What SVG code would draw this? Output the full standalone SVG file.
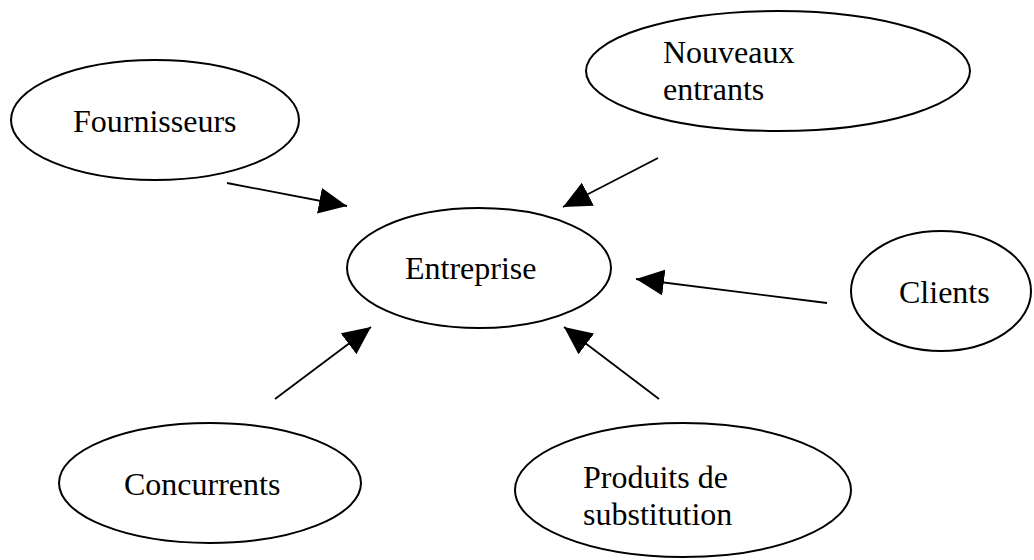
<svg xmlns="http://www.w3.org/2000/svg" width="1034" height="560" viewBox="0 0 1034 560">
<style>
.n{fill:#fff;stroke:#000;stroke-width:2}
.t{font-family:"Liberation Serif","Times New Roman",serif;font-size:32px;fill:#000}
.c line{stroke:#000;stroke-width:1.8;marker-end:url(#ah)}
</style>
<defs>
<marker id="ah" viewBox="0 0 28 26" refX="28" refY="13" markerWidth="28" markerHeight="26" markerUnits="userSpaceOnUse" orient="auto">
<path d="M0,0 L28,13 L0,26 z" fill="#000"/>
</marker>
</defs>
<rect width="1034" height="560" fill="#fff"/>
<g id="fournisseurs"><ellipse class="n" cx="155" cy="120" rx="144" ry="60"/><text class="t" x="73" y="132">Fournisseurs</text></g>
<g id="nouveaux"><ellipse class="n" cx="778" cy="71" rx="192" ry="60"/><text class="t" x="663" y="63">Nouveaux</text><text class="t" x="663" y="100">entrants</text></g>
<g id="entreprise"><ellipse class="n" cx="479" cy="268" rx="132" ry="60"/><text class="t" x="405" y="279">Entreprise</text></g>
<g id="clients"><ellipse class="n" cx="941" cy="291" rx="90" ry="60"/><text class="t" x="899" y="303">Clients</text></g>
<g id="concurrents"><ellipse class="n" cx="210" cy="483" rx="151" ry="60"/><text class="t" x="124" y="495">Concurrents</text></g>
<g id="produits"><ellipse class="n" cx="683" cy="490" rx="168" ry="67"/><text class="t" x="583" y="488">Produits de</text><text class="t" x="583" y="525">substitution</text></g>
<g id="connectors" class="c">
<line x1="227" y1="183" x2="347" y2="206"/>
<line x1="658" y1="158" x2="563" y2="207"/>
<line x1="827" y1="303" x2="636" y2="279"/>
<line x1="275" y1="399" x2="371" y2="327"/>
<line x1="659" y1="399" x2="564" y2="327"/>
</g>
</svg>
